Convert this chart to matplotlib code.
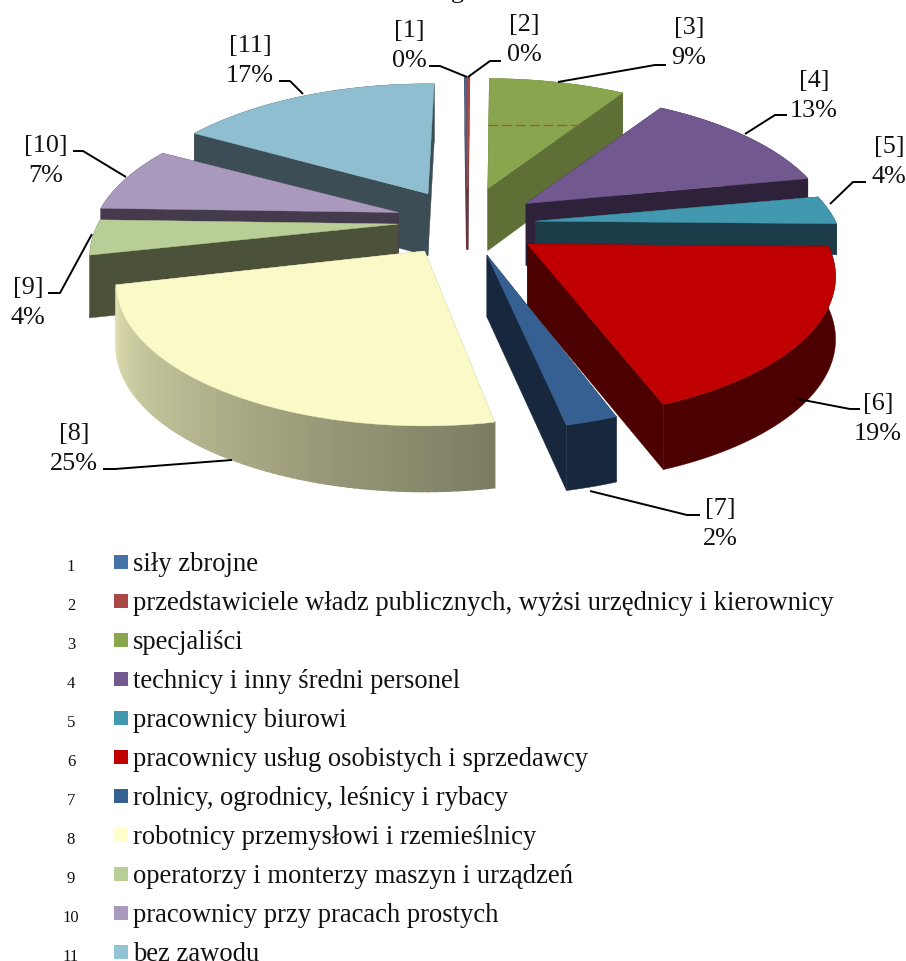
import numpy as np
import matplotlib
matplotlib.use('Agg')
import matplotlib.pyplot as plt

plt.rcParams['font.family'] = ['Liberation Serif', 'DejaVu Serif']

# Data
categories = ['siły zbrojne',
              'przedstawiciele władz publicznych, wyżsi urzędnicy i kierownicy',
              'specjaliści',
              'technicy i inny średni personel',
              'pracownicy biurowi',
              'pracownicy usług osobistych i sprzedawcy',
              'rolnicy, ogrodnicy, leśnicy i rybacy',
              'robotnicy przemysłowi i rzemieślnicy',
              'operatorzy i monterzy maszyn i urządzeń',
              'pracownicy przy pracach prostych',
              'bez zawodu']
values = [0.1, 0.1, 8.9, 13, 3.3, 18.9, 2.5, 24.8, 4, 7.8, 17.1]
percent_labels = ['0%', '0%', '9%', '13%', '4%', '19%', '2%', '25%', '4%', '7%', '17%']

# Styles
top_colors = ['#4572a7', '#aa4643', '#89a54e', '#71588f', '#4198af', '#c00000',
              '#376092', '#fafac8', '#b9cd96', '#a999bd', '#8fbed0']
legend_colors = ['#4572a7', '#aa4643', '#89a54e', '#71588f', '#4198af', '#c00000',
                 '#376092', '#ffffcc', '#b9cd96', '#a999bd', '#92c3d4']
wall_colors = ['#2a4565', '#7a3230', '#5e7036', '#2e223a', '#1b3c48', '#4d0000',
               '#17283e', '#a0a07a', '#4c523a', '#433a4c', '#3c4d55']
explode = [0.30, 0.30, 0.30, 0.25, 0.25, 0.25, 0.22, 0.22, 0.24, 0.24, 0.28]
# small adjustments per slice, in pixels
nudge = [(2, 0), (2, 0), (-1, 0), (1, -3), (-4, -1), (-1, -1), (3, 0), (-3, 0), (5, -4), (2, -4), (2, 0)]
trim_start = [0, 0, 0, 0, 0, 0, 0.3, 0.4, 0, 0, 0]
trim_end = [0, 0, 0, -0.1, 0, 0, 0, -0.3, 0, -0.2, 0]
depth_scale = [1, 1, 1, 1, 0.5, 1, 1, 1, 1, 1, 1]
draw_order = [2, 10, 0, 1, 3, 9, 4, 8, 5, 7, 6]

label_pos = [(409, 46), (524, 40), (689, 43), (814, 96), (889, 162), (878, 419),
             (720, 524), (74, 449), (28, 303), (46, 161), (250, 61)]
leaders = [[(429, 67), (440, 67), (467, 78)],
           [(501, 62), (490, 62), (468, 78)],
           [(666, 66), (655, 66), (558, 83)],
           [(787, 116), (775, 116), (745, 135)],
           [(866, 183), (853, 183), (830, 205)],
           [(860, 410), (850, 410), (798, 400)],
           [(700, 516), (687, 516), (590, 492)],
           [(103, 470), (115, 470), (232, 461)],
           [(48, 294), (60, 294), (92, 235)],
           [(73, 152), (83, 152), (126, 178)],
           [(279, 82), (290, 82), (303, 95)]]

CX, CY = 465, 226
A, B, P = 300.0, 135.0, 0.228
DEPTH = 62.0


def project(theta, r=1.0):
    # perspective view of a point in the plane of the pie
    X = r * np.sin(theta)
    Y = r * np.cos(theta)
    w = 1 + P * Y
    return A * X / w, -B * Y / w, w


def wall_depth(w):
    return DEPTH * (1 - 0.25 * (w - 1))


fig = plt.figure(figsize=(9.06, 9.62), dpi=100)
ax = fig.add_axes([0, 0, 1, 1])
ax.set_xlim(0, 906)
ax.set_ylim(962, 0)
ax.axis('off')

# the pie
edges = np.cumsum([0] + values) - 0.1
for order, i in enumerate(draw_order):
    z = 2 + order
    t0 = (edges[i] + trim_start[i]) / 100 * 2 * np.pi
    t1 = (edges[i + 1] + trim_end[i]) / 100 * 2 * np.pi
    ox, oy, _ = project((t0 + t1) / 2, explode[i])
    ax_x = CX + ox + nudge[i][0]
    ax_y = CY + oy + nudge[i][1]
    th = np.linspace(t0, t1, 80)
    rx, ry, rw = project(th)
    rx = ax_x + rx
    ry = ax_y + ry
    d = wall_depth(rw) * depth_scale[i]
    d0 = wall_depth(1.0) * depth_scale[i]
    edge_w = 1.0 if i < 2 else 0.3

    # radial walls
    for j in [0, -1]:
        ax.fill([ax_x, rx[j], rx[j], ax_x],
                [ax_y, ry[j], ry[j] + d[j], ax_y + d0],
                color=wall_colors[i], lw=edge_w, zorder=z)
    # outer wall, the yellow one is shaded from left to right
    if i == 7:
        for k in range(len(th) - 1):
            f = k / (len(th) - 2)
            c = (np.array([124, 124, 98]) * (1 - f) + np.array([222, 222, 176]) * f) / 255
            ax.fill([rx[k], rx[k + 1], rx[k + 1], rx[k]],
                    [ry[k], ry[k + 1], ry[k + 1] + d[k + 1], ry[k] + d[k]],
                    facecolor=c, edgecolor=c, lw=1.2, zorder=z)
    else:
        ax.fill(np.r_[rx, rx[::-1]], np.r_[ry, (ry + d)[::-1]],
                color=wall_colors[i], lw=0.3, zorder=z)
    # top
    ax.fill(np.r_[ax_x, rx], np.r_[ax_y, ry], color=top_colors[i], lw=edge_w, zorder=z)

# small dashed artefact on the green slice
ax.plot([488, 580], [126, 126], color='#b0503a', lw=0.9, ls=(0, (8, 3)), zorder=20)

# labels and leader lines
for i in range(len(values)):
    ax.text(label_pos[i][0], label_pos[i][1], '[%d]\n%s' % (i + 1, percent_labels[i]),
            ha='center', va='center', fontsize=18.8, linespacing=1.5, color='#111111', zorder=30)
    xs, ys = zip(*leaders[i])
    ax.plot(xs, ys, color='black', lw=1.4, zorder=25, solid_capstyle='butt')

# clipped title at the top edge
ax.text(457, -2, 'g', ha='center', va='baseline', fontsize=18.8, color='#111111', clip_on=False)

# legend
for i, name in enumerate(categories):
    y = 563 + 39 * i
    ax.text(71, y + 4.5, str(i + 1), ha='center', va='center', fontsize=12, color='#111111')
    ax.fill([114, 128, 128, 114], [y - 7, y - 7, y + 7, y + 7], color=legend_colors[i], lw=0)
    ax.text(133, y + 8, name, ha='left', va='baseline', fontsize=19.2, color='#111111')

fig.savefig('out.png', dpi=100)
